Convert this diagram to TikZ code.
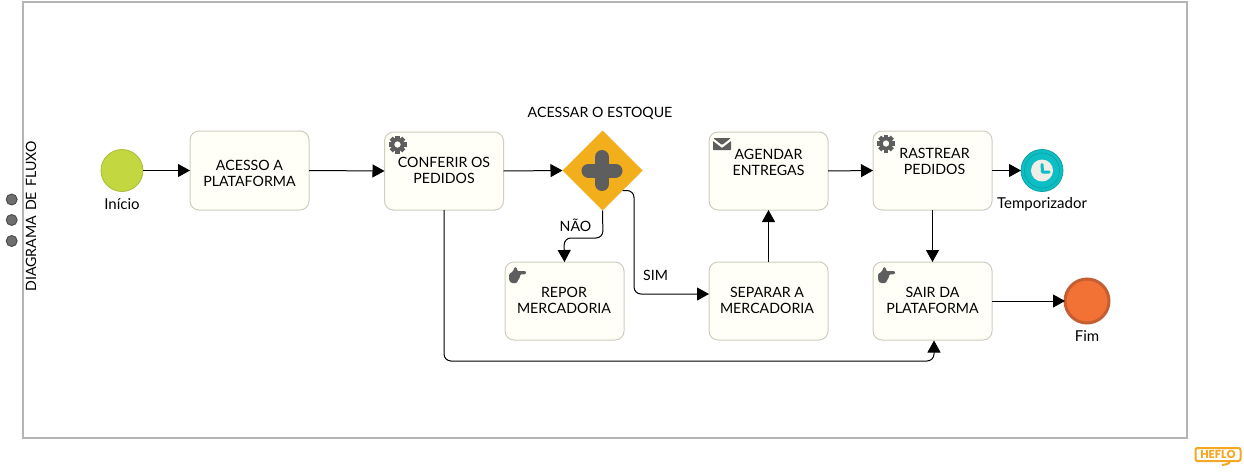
\documentclass[tikz,border=0pt]{standalone}
\usepackage{fontspec}
\setmainfont{Lato}
\newfontfamily\logofont{Poppins}
\usetikzlibrary{arrows.meta,shapes.geometric,calc}
\definecolor{taskfill}{HTML}{FFFFF8}
\definecolor{taskline}{HTML}{CFCDC0}
\definecolor{lane}{HTML}{B4B4B4}
\definecolor{icon}{HTML}{5E5E5E}
\definecolor{heflo}{HTML}{F5A623}
\definecolor{startfill}{HTML}{C3D740}
\definecolor{startline}{HTML}{A9BC3A}
\definecolor{timerfill}{HTML}{0DBFC4}
\definecolor{timerline}{HTML}{0AA0A5}
\definecolor{timerface}{HTML}{F0EEE6}
\definecolor{endfill}{HTML}{F27135}
\definecolor{endline}{HTML}{C55F33}
\definecolor{gatefill}{HTML}{F2AE1B}
\tikzset{
  x=1pt,y=-1pt,
  every node/.style={font=\fontsize{14.2}{16}\selectfont,text=black,outer sep=0pt},
  task/.style={draw=taskline,line width=1pt,fill=taskfill,rounded corners=9pt,minimum width=119pt,minimum height=79pt,inner sep=0pt},
  tasktext/.style={align=center,inner sep=0pt},
  eventlabel/.style={inner sep=0pt,font=\fontsize{15}{16}\selectfont},
  flow/.style={draw=black,line width=1pt,-{Triangle[length=12pt,width=13pt]},rounded corners=7pt},
  gearicon/.pic={
    \foreach \a in {0,45,...,315}
      \fill[icon,rotate=\a] (-2.2,-9) rectangle (2.2,-5);
    \fill[icon,even odd rule] (0,0) circle[radius=6.8] (0,0) circle[radius=3.3];
  },
  mailicon/.pic={
    \fill[icon,rounded corners=1pt] (0,0) -- (18,0) -- (9,7) -- cycle;
    \fill[icon,rounded corners=0.6pt] (0,3) -- (9,10) -- (18,3) -- (18,12) -- (0,12) -- cycle;
  },
  handicon/.pic={
    \fill[icon,rounded corners=1.2pt] (1,7) -- (5,4.5) -- (6.5,0) -- (9,0.5) -- (9,4) -- (17.5,4) -- (18.5,5.5) -- (17.5,7.2) -- (12,7.5) -- (12,10.5) -- (10,13) -- (9,16) -- (3,16) -- (1,13) -- cycle;
  }
}
\begin{document}
\begin{tikzpicture}
\useasboundingbox[fill=white] (0,0) rectangle (1244,471);
% pool
\node[draw=lane,line width=1.2pt,minimum width=1164pt,minimum height=436pt,inner sep=0pt] (pool) at (605,220) {};
\node[rotate=90,inner sep=0pt] (lanetitle) at (31,216.5) {DIAGRAMA\hspace{5pt}DE\hspace{5pt}FLUXO};
\foreach \n/\y in {a/199.5,b/220,c/241}
  \node[circle,draw=icon!70!black,fill=icon!90!white,line width=0.8pt,minimum size=11pt,inner sep=0pt] (dot\n) at (11.7,\y) {};
% tasks
\node[task] (acesso) at (249.5,170.5) {};
\node[task,minimum height=78pt] (conferir) at (444,171) {};
\node[task,minimum height=78pt] (repor) at (564.5,301) {};
\node[task,minimum height=78pt] (agendar) at (768.5,171) {};
\node[task,minimum height=78pt] (separar) at (768.5,301) {};
\node[task] (rastrear) at (932.5,170.5) {};
\node[task,minimum height=78pt] (sair) at (932.5,301) {};
\node[tasktext] (acessoT) at (249.5,173) {ACESSO A\\PLATAFORMA};
\node[tasktext] (conferirT) at (444,170) {CONFERIR OS\\PEDIDOS};
\node[tasktext] (reporT) at (564,300) {REPOR\\MERCADORIA};
\node[tasktext] (agendarT) at (768.5,162) {AGENDAR\\ENTREGAS};
\node[tasktext] (separarT) at (767,300) {SEPARAR A\\MERCADORIA};
\node[tasktext] (rastrearT) at (934.5,161) {RASTREAR\\PEDIDOS};
\node[tasktext] (sairT) at (932.5,300) {SAIR DA\\PLATAFORMA};
% icons
\pic at (397.5,144.5) {gearicon};
\pic at (886,143.5) {gearicon};
\pic at (713,138) {mailicon};
\pic at (508,267) {handicon};
\pic at (877,267) {handicon};
% events
\node[circle,draw=startline,fill=startfill,line width=0.8pt,minimum size=42pt,inner sep=0pt] (start) at (122,170.5) {};
\node[eventlabel] (startL) at (122,204) {Início};
\node[circle,draw=timerline,fill=timerfill,line width=0.8pt,minimum size=42pt,inner sep=0pt] (timer) at (1042,170.5) {};
\draw[timerline,line width=0.6pt] (timer) circle[radius=17.5];
\fill[timerface] (timer) circle[radius=11];
\draw[timerfill,line width=3pt,line cap=round,line join=round] ($(timer)+(0,-6)$) -- ($(timer)+(0.5,1.5)$) -- ($(timer)+(7,1.5)$);
\node[eventlabel] (timerL) at (1042,204) {Temporizador};
\node[circle,draw=endline,fill=endfill,line width=3pt,minimum size=44pt,inner sep=0pt] (fim) at (1087,301) {};
\node[eventlabel] (fimL) at (1087,336) {Fim};
% gateway
\node[diamond,aspect=1,fill=gatefill,minimum width=80pt,minimum height=80pt,inner sep=0pt] (gate) at (602.5,170.5) {};
\draw[icon,line width=14pt,line cap=round] ($(gate)+(-0.5,-13.5)$) -- ($(gate)+(-0.5,13.5)$);
\draw[icon,line width=14pt,line cap=round] ($(gate)+(-14,0)$) -- ($(gate)+(13,0)$);
\node[inner sep=0pt] (gateL) at (600,113.5) {ACESSAR O ESTOQUE};
% connectors
\coordinate (naoA) at (603,238);
\coordinate (naoB) at (564,238);
\coordinate (simA) at (634,190.5);
\coordinate (simB) at (634,294);
\coordinate (bottomA) at (444,361);
\coordinate (bottomB) at (934,361);
\coordinate (sairIn) at (934,340.5);
\draw[flow] (start.east) -- (acesso.west);
\draw[flow] (acesso.east) -- (conferir.west);
\draw[flow] (conferir.east) -- (gate.west);
\draw[flow] (gate.south) -- (naoA) -- (naoB) -- (repor.north);
\draw[flow] (gate.south east) -- (simA) -- (simB) -- (simB -| separar.west);
\draw[flow] (separar.north) -- (agendar.south);
\draw[flow] (agendar.east) -- (rastrear.west);
\draw[flow] (rastrear.east) -- (timer.west);
\draw[flow] (rastrear.south) -- (sair.north);
\draw[flow] (sair.east) -- (fim.west);
\draw[flow] (conferir.south) -- (bottomA) -- (bottomB) -- (sairIn);
\node[inner sep=0pt] (nao) at (575.5,225) {NÃO};
\node[inner sep=0pt] (sim) at (655.5,275) {SIM};
% logo
\node[draw=heflo,line width=2pt,rounded corners=2pt,minimum width=45pt,minimum height=13pt,inner sep=0pt,font=\logofont\fontsize{11.5}{12}\bfseries\selectfont,text=heflo] (logo) at (1218,454.5) {HEFLO};
\coordinate (hookA) at (1222,465);
\draw[heflo,line width=2pt] (hookA) to[out=10,in=-100] (logo.south -| 1230,0);
\end{tikzpicture}
\end{document}
